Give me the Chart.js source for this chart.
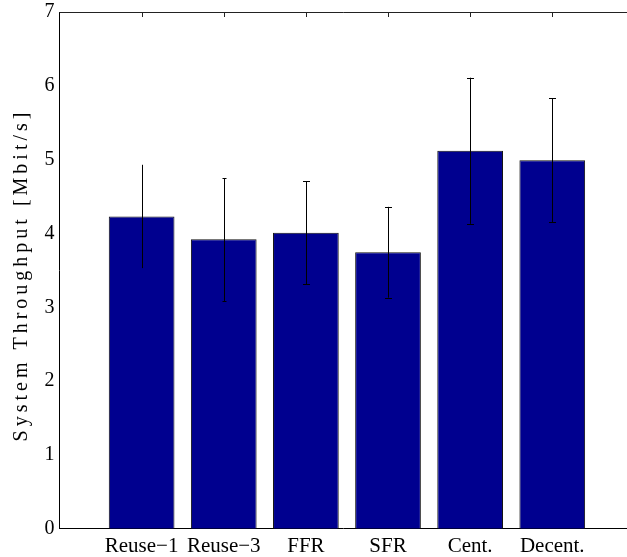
<!DOCTYPE html>
<html>
<head>
<meta charset="utf-8">
<script src="https://cdn.jsdelivr.net/npm/chart.js@4"></script>
<style>
    html, body { margin: 0; padding: 0; background: #fff; overflow: hidden; }
    #wrap { width: 627px; height: 557px; }
</style>
</head>
<body>
<div id="wrap"><canvas id="chart" width="627" height="557"></canvas></div>
<script>
const schemes = ['Reuse\u22121', 'Reuse\u22123', 'FFR', 'SFR', 'Cent.', 'Decent.'];
const throughput = [4.23, 3.92, 4.01, 3.745, 5.12, 4.99];
const errUpper = [4.93, 4.75, 4.71, 4.36, 6.11, 5.83];
const errLower = [3.53, 3.085, 3.31, 3.13, 4.13, 4.15];
const yTicks = [0, 1, 2, 3, 4, 5, 6, 7];
const yTitle = 'System Throughput [Mbit/s]';

// the figure is cut off on the right, so the x axis stops short of 7
const xMin = 0;
const xMax = 6.91;

const capWidths = [0, 4, 7, 7, 7, 7];
const serif = "'Liberation Serif', 'DejaVu Serif', serif";

// top edge, inward ticks on top edge, error bars and y title
const decorations = {
    id: 'decorations',
    afterDatasetsDraw(chart) {
        const ctx = chart.ctx;
        const area = chart.chartArea;
        const x = chart.scales.x;
        const y = chart.scales.y;
        ctx.save();

        ctx.strokeStyle = '#000';
        ctx.lineWidth = 1;
        ctx.beginPath();
        throughput.forEach((_, i) => {
            const px = Math.round(x.getPixelForValue(i + 1)) + 0.5;
            const hi = y.getPixelForValue(errUpper[i]);
            const lo = y.getPixelForValue(errLower[i]);
            ctx.moveTo(px, hi);
            ctx.lineTo(px, lo);
            const c = capWidths[i] / 2;
            if (c > 0) {
                ctx.moveTo(px - c, Math.round(hi) + 0.5);
                ctx.lineTo(px + c, Math.round(hi) + 0.5);
                ctx.moveTo(px - c, Math.round(lo) + 0.5);
                ctx.lineTo(px + c, Math.round(lo) + 0.5);
            }
        });
        ctx.stroke();

        ctx.strokeStyle = '#222';
        ctx.beginPath();
        const top = Math.round(area.top) + 0.5;
        ctx.moveTo(area.left, top);
        ctx.lineTo(chart.width, top);
        schemes.forEach((_, i) => {
            const px = Math.round(x.getPixelForValue(i + 1)) + 0.5;
            ctx.moveTo(px, area.top);
            ctx.lineTo(px, area.top + 5);
        });
        ctx.stroke();

        ctx.translate(22, 277);
        ctx.rotate(-Math.PI / 2);
        ctx.font = '20px ' + serif;
        ctx.letterSpacing = '4px';
        ctx.fillStyle = '#000';
        ctx.textAlign = 'center';
        ctx.textBaseline = 'middle';
        ctx.fillText(yTitle, 2, 0);
        ctx.restore();
    }
};

new Chart(document.getElementById('chart').getContext('2d'), {
    type: 'bar',
    data: {
        datasets: [{
            data: throughput.map((v, i) => ({ x: i + 1, y: v })),
            backgroundColor: '#00008f',
            borderColor: '#111',
            borderWidth: 1,
            barPercentage: 0.8,
            categoryPercentage: 1
        }]
    },
    options: {
        responsive: false,
        animation: false,
        layout: { padding: { top: 12, right: 0, left: 0, bottom: 0 } },
        plugins: { legend: { display: false }, tooltip: { enabled: false } },
        scales: {
            x: {
                type: 'linear',
                min: xMin,
                max: xMax,
                offset: false,
                grid: { display: false, drawTicks: false },
                border: { color: '#000', width: 1 },
                afterBuildTicks(scale) {
                    scale.ticks = schemes.map((_, i) => ({ value: i + 1 }));
                },
                afterFit(scale) {
                    scale.height = 28.3;
                    scale.paddingLeft = 0;
                    scale.paddingRight = 0;
                },
                ticks: {
                    autoSkip: false,
                    maxRotation: 0,
                    padding: 5,
                    color: '#000',
                    font: { family: serif, size: 21 },
                    callback: (v) => schemes[v - 1] || ''
                }
            },
            y: {
                min: 0,
                max: 7,
                grid: { display: false, drawTicks: false },
                border: { color: '#000', width: 1 },
                afterBuildTicks(scale) {
                    scale.ticks = yTicks.map(v => ({ value: v }));
                },
                afterFit(scale) {
                    scale.width = 59.5;
                    scale.paddingTop = 0;
                    scale.paddingBottom = 0;
                },
                ticks: {
                    padding: 5,
                    color: '#000',
                    font: { family: serif, size: 20 }
                }
            }
        }
    },
    plugins: [decorations]
});
</script>
</body>
</html>
